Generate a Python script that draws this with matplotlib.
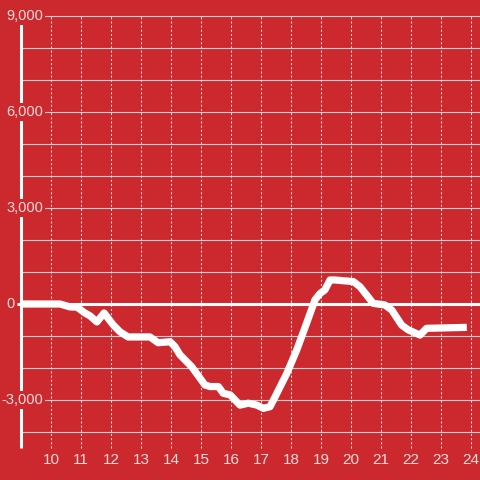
import matplotlib.pyplot as plt

plt.rcParams['font.family'] = ['Liberation Sans', 'DejaVu Sans']

# hourly balance curve
hours = [9.0, 10.3, 10.63, 10.87, 11.13, 11.3, 11.53, 11.77, 12.07, 12.3, 12.57,
         13.3, 13.57, 13.97, 14.13, 14.3, 14.69, 14.97, 15.13, 15.3, 15.58, 15.74,
         15.97, 16.3, 16.58, 16.86, 17.08, 17.3, 17.47, 17.86, 18.19, 18.52, 18.8,
         18.97, 19.13, 19.3, 19.47, 20.08, 20.3, 20.52, 20.74, 21.13, 21.36, 21.69,
         21.91, 22.3, 22.52, 23.86]
values = [0, 0, -90, -100, -280, -370, -560, -280, -650, -870, -1030,
          -1030, -1210, -1180, -1330, -1590, -1960, -2320, -2530, -2580, -2580, -2790,
          -2840, -3160, -3100, -3160, -3260, -3210, -2900, -2170, -1440, -600, 130,
          330, 440, 750, 750, 700, 540, 280, 20, -30, -190, -660,
          -810, -970, -760, -730]

x_ticks = list(range(10, 25))
y_grid = list(range(-4000, 9001, 1000))
y_labels = {9000: '9,000', 6000: '6,000', 3000: '3,000', 0: '0', -3000: '-3,000'}

bg = '#cc292e'
txt = '#f5dcdc'

fig = plt.figure(figsize=(4.8, 4.8), dpi=100, facecolor=bg)
ax = fig.add_axes([0, 0, 1, 1], facecolor=bg)
ax.set_xlim(9 - 21 / 30, 9 + 459 / 30)
ax.set_ylim(-5500, 9500)
ax.axis('off')

# grid
for v in y_grid:
    if v != 0:
        ax.hlines(v, 9, 24.3, color='#cfcfcf', lw=0.8, zorder=1)
for h in x_ticks:
    ax.vlines(h, -4500, 9000, color='#e6e6e6', lw=0.75, linestyles=(0, (2, 2)), zorder=1)

# axis spine and zero line
ax.vlines(9, -4500, 9000, color='white', lw=2.2, zorder=2)
ax.hlines(0, 9 - 4 / 30, 24.3, color='white', lw=2.2, zorder=3)

ax.plot(hours, values, color='white', lw=5.2, solid_joinstyle='round',
        solid_capstyle='butt', zorder=4)

for v, s in y_labels.items():
    if v == 0:
        ax.text(9 - 6 / 30, v, s, ha='right', va='center', color=txt, fontsize=10.5,
                zorder=5)
    else:
        ax.text(9 + 22 / 30, v, s, ha='right', va='center', color=txt, fontsize=10.5,
                zorder=5, bbox=dict(facecolor=bg, edgecolor='none', pad=1.5))

for h in x_ticks:
    ax.text(h, -4500 - 12 * 1000 / 32, str(h), ha='center', va='center', color=txt,
            fontsize=11)

fig.savefig('out.png', dpi=100, facecolor=bg)
